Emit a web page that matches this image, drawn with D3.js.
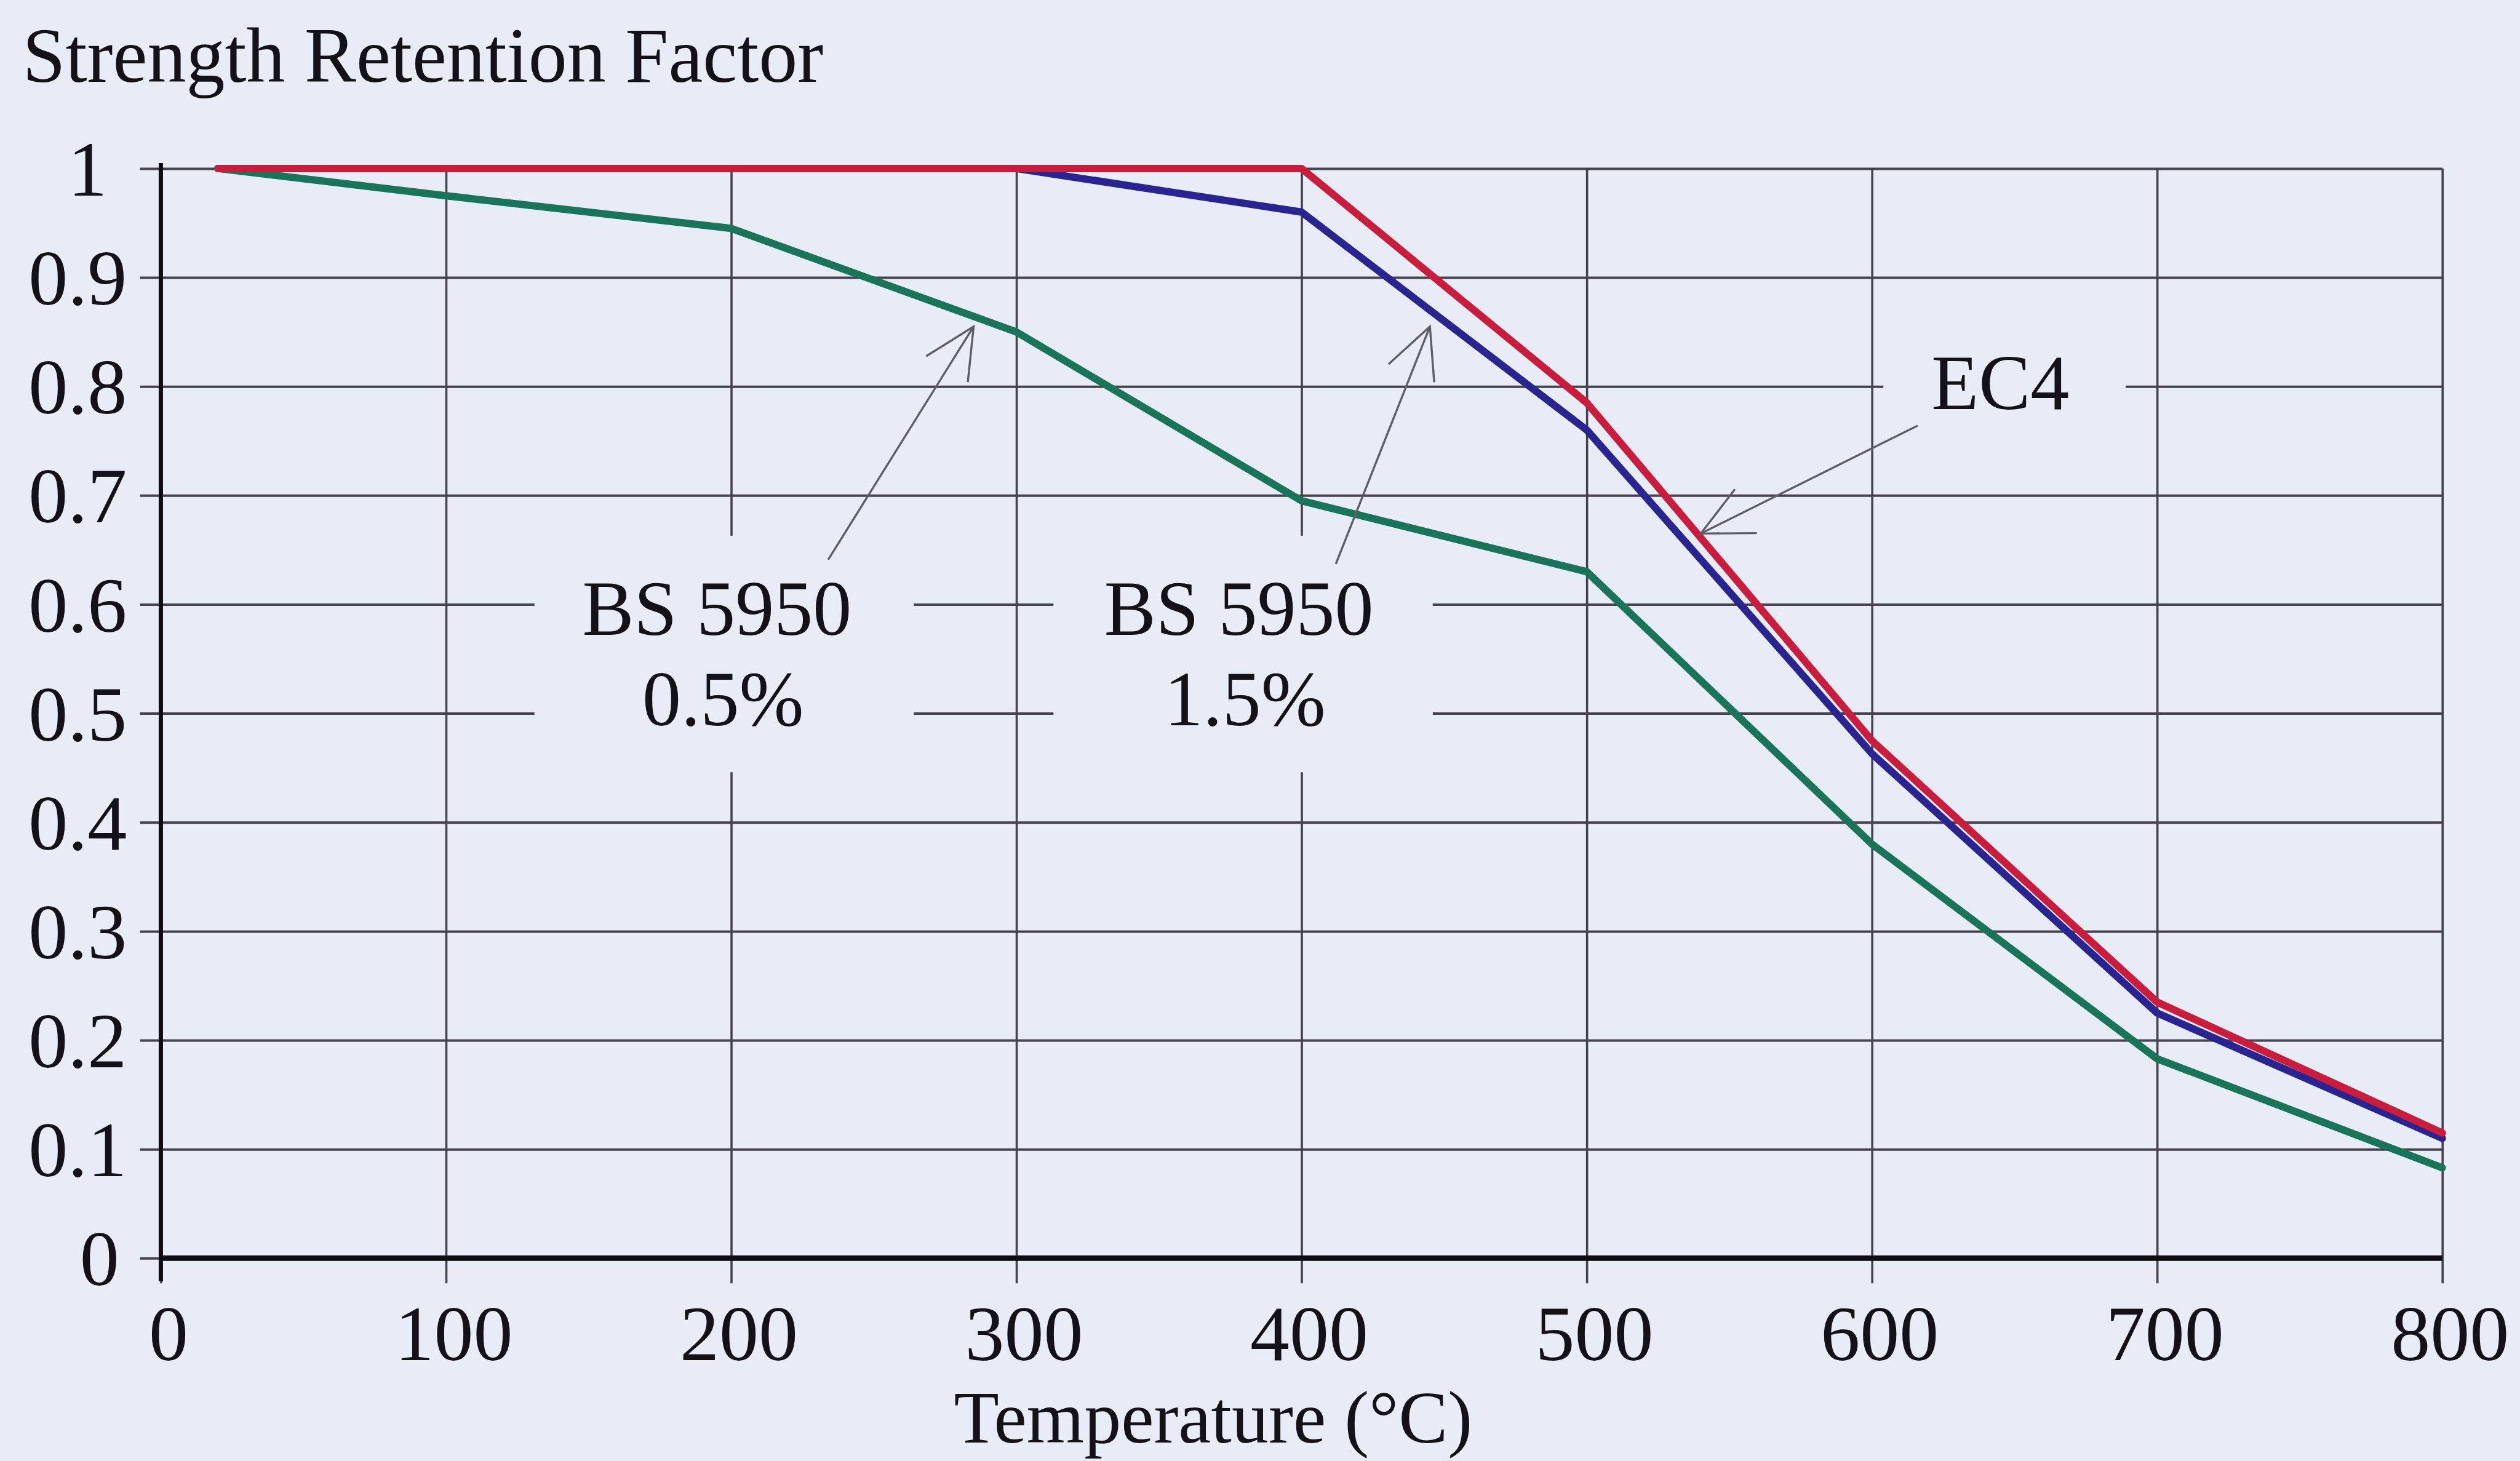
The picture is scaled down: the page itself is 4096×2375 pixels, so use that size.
<!DOCTYPE html>
<html>
<head>
<meta charset="utf-8">
<script src="https://cdn.jsdelivr.net/npm/d3@7"></script>
<style>
  html, body { margin: 0; padding: 0; background: #e8ecf6; }
  svg { display: block; }
  text { font-family: "Liberation Serif", "Times New Roman", serif; fill: #141218; }
</style>
</head>
<body>
<svg id="chart"></svg>
<script>
// temperature (°C) and strength retention factors
const temps = [20, 100, 200, 300, 400, 500, 600, 700, 800];
const ec4   = [1, 1, 1, 1, 1, 0.785, 0.475, 0.235, 0.115];
const bs15  = [1, 1, 1, 1, 0.96, 0.76, 0.463, 0.225, 0.11];
const bs05  = [1, 0.975, 0.945, 0.85, 0.695, 0.63, 0.38, 0.183, 0.083];

const xTicks = [0, 100, 200, 300, 400, 500, 600, 700, 800];
const yTicks = [0, 0.1, 0.2, 0.3, 0.4, 0.5, 0.6, 0.7, 0.8, 0.9, 1];
const yTickLabels = ["0", "0.1", "0.2", "0.3", "0.4", "0.5", "0.6", "0.7", "0.8", "0.9", "1"];

// callout labels (data units)
const labelNames = [["BS 5950", "0.5%"], ["BS 5950", "1.5%"], ["EC4"]];
const labelX = [195, 378, 645];
const labelY = [0.572, 0.572, 0.779];
const boxX = [[131, 264], [313, 446], [604, 689]];
const boxY = [[0.663, 0.446], [0.663, 0.446], [0.87, 0.74]];
// arrows: tail -> tip (data units)
const arrowTail = [[234, 0.641], [412, 0.637], [616, 0.764]];
const arrowTip  = [[285, 0.855], [445, 0.855], [540, 0.665]];

const W = 4096, H = 2375;
const k = W / 4606;   // reference px -> window px

const padL = 294 * k, padR = 4464 * k, padT = 308 * k, padB = 2300 * k;

const svg = d3.select("#chart").attr("width", W).attr("height", H);
svg.append("rect").attr("width", W).attr("height", H).attr("fill", "#e8ecf6");

const x = d3.scaleLinear().domain([0, 800]).range([padL, padR]);
const y = d3.scaleLinear().domain([0, 1]).range([padB, padT]);

const gridColor = "#46434f";
const tickOut = 38 * k;

// horizontal grid + y labels
const gy = svg.append("g")
    .attr("transform", `translate(${padL},0)`)
    .call(d3.axisLeft(y).tickValues(yTicks).tickSize(0).tickFormat((d, i) => yTickLabels[i]));
gy.select(".domain").remove();
gy.selectAll(".tick line")
    .attr("x1", -tickOut).attr("x2", padR - padL)
    .attr("stroke", gridColor).attr("stroke-width", 4);
gy.selectAll(".tick text")
    .attr("x", d => -62 * k - (d === 1 ? 36 * k : d === 0 ? 14 * k : 0))
    .attr("dy", "0.34em")
    .attr("font-size", 128)
    .attr("font-family", null)
    .attr("fill", "#141218");

// vertical grid + x labels
const gx = svg.append("g")
    .attr("transform", `translate(0,${padB})`)
    .call(d3.axisBottom(x).tickValues(xTicks).tickSize(0));
gx.select(".domain").remove();
gx.selectAll(".tick line")
    .attr("y1", padT - padB).attr("y2", 46 * k)
    .attr("stroke", gridColor).attr("stroke-width", 3.6);
gx.selectAll(".tick text")
    .attr("y", 186 * k).attr("dy", null)
    .attr("dx", 12)
    .attr("font-size", 128)
    .attr("font-family", null)
    .attr("fill", "#141218");

// axis lines
svg.append("line")
    .attr("x1", x(0)).attr("x2", x(0))
    .attr("y1", y(1) - 10 * k).attr("y2", padB + 42 * k)
    .attr("stroke", "#100c14").attr("stroke-width", 7);
svg.append("line")
    .attr("x1", x(0)).attr("x2", x(800))
    .attr("y1", y(0)).attr("y2", y(0))
    .attr("stroke", "#100c14").attr("stroke-width", 9);

// boxes behind callout text hide the grid
svg.append("g").selectAll("rect")
    .data(boxX)
    .join("rect")
    .attr("x", d => x(d[0]))
    .attr("width", d => x(d[1]) - x(d[0]))
    .attr("y", (d, i) => y(boxY[i][0]))
    .attr("height", (d, i) => y(boxY[i][1]) - y(boxY[i][0]))
    .attr("fill", "#e8ecf6");

// series
const series = [
    { name: "BS 5950 0.5%", values: bs05, color: "#1a7459" },
    { name: "BS 5950 1.5%", values: bs15, color: "#2a2490" },
    { name: "EC4", values: ec4, color: "#c91d3d" }
];
const line = d3.line().x(d => x(d[0])).y(d => y(d[1]));
svg.append("g").selectAll("path")
    .data(series)
    .join("path")
    .attr("d", s => line(temps.map((t, i) => [t, s.values[i]])))
    .attr("fill", "none")
    .attr("stroke", s => s.color)
    .attr("stroke-width", 12)
    .attr("stroke-linejoin", "round")
    .attr("stroke-linecap", "round");

// callout arrows
const arrowColor = "#5f5c6c";
const barb = 91, spread = 26 * Math.PI / 180;
const ga = svg.append("g").attr("stroke", arrowColor).attr("stroke-width", 3.4).attr("fill", "none");
arrowTail.forEach((t, i) => {
    const x1 = x(t[0]), y1 = y(t[1]);
    const x2 = x(arrowTip[i][0]), y2 = y(arrowTip[i][1]);
    const ang = Math.atan2(y1 - y2, x1 - x2);
    ga.append("line").attr("x1", x1).attr("y1", y1).attr("x2", x2).attr("y2", y2);
    ga.append("path").attr("d",
        `M${x2 + barb * Math.cos(ang + spread)},${y2 + barb * Math.sin(ang + spread)}` +
        `L${x2},${y2}` +
        `L${x2 + barb * Math.cos(ang - spread)},${y2 + barb * Math.sin(ang - spread)}`);
});

// callout text
const lineGap = 0.083;
labelNames.forEach((lines, i) => {
    lines.forEach((txt, j) => {
        svg.append("text")
            .attr("x", x(labelX[i]) + j * 10)
            .attr("y", y(labelY[i] - j * lineGap))
            .attr("text-anchor", "middle")
            .attr("font-size", 126)
            .text(txt);
    });
});

// titles
svg.append("text")
    .attr("x", 41 * k).attr("y", 150 * k)
    .attr("font-size", 126)
    .text("Strength Retention Factor");

svg.append("text")
    .attr("x", x(369)).attr("y", 2637 * k)
    .attr("text-anchor", "middle")
    .attr("font-size", 120)
    .text("Temperature (°C)");
</script>
</body>
</html>
